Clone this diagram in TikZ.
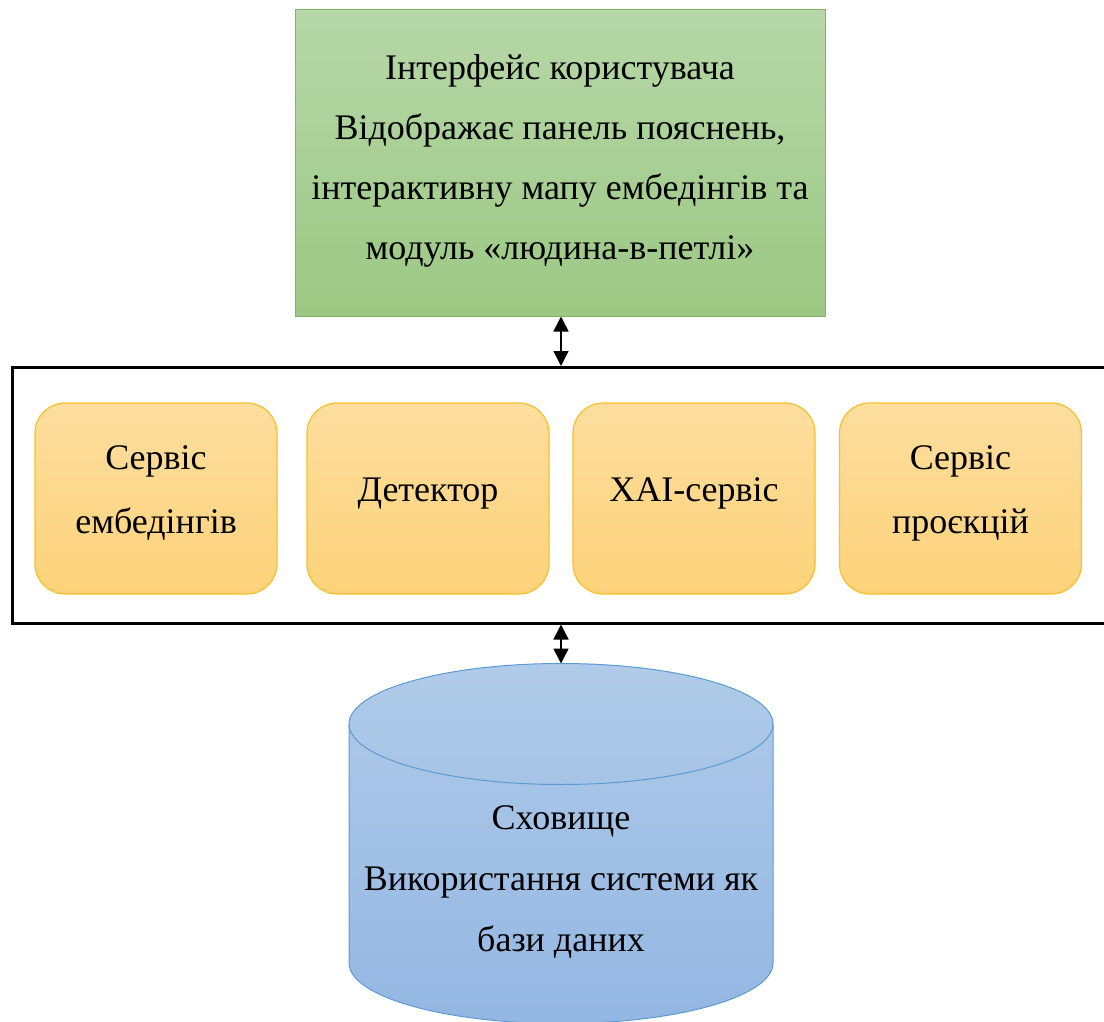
\documentclass[tikz,border=0pt]{standalone}
\usepackage{fontspec}
\setmainfont{Liberation Serif}
\usetikzlibrary{arrows.meta}
\definecolor{uiTop}{HTML}{B6D7A8}
\definecolor{uiBot}{HTML}{9CC883}
\definecolor{uiLine}{HTML}{82B366}
\definecolor{svcTop}{HTML}{FDDE9E}
\definecolor{svcBot}{HTML}{FDD27A}
\definecolor{svcLine}{HTML}{F5C02C}
\definecolor{dbTop}{HTML}{B0CBE9}
\definecolor{dbBot}{HTML}{93B6E2}
\definecolor{dbLine}{HTML}{5B9BD5}
\tikzset{
  txt/.style={font=\fontsize{36}{60}\selectfont, align=center, text=black},
  svctxt/.style={font=\fontsize{36}{64}\selectfont, align=center, text=black, yshift=5pt},
  uibox/.style={txt, draw=uiLine, line width=1pt, top color=uiTop, bottom color=uiBot,
    minimum width=530pt, minimum height=306pt, inner sep=0pt},
  svcbox/.style={draw=svcLine, line width=1.2pt, top color=svcTop, bottom color=svcBot,
    rounded corners=30pt, minimum width=242pt, minimum height=191pt, inner sep=0pt},
  frame/.style={draw=black, line width=2.5pt, minimum width=1100pt, minimum height=256pt, inner sep=0pt},
  link/.style={line width=1.5pt, {Triangle[width=15pt,length=15pt]}-{Triangle[width=15pt,length=15pt]}}
}
\begin{document}
\begin{tikzpicture}[x=1pt,y=-1pt]
\useasboundingbox (0,0) rectangle (1104,1022);
\begin{scope}
\clip (0,0) rectangle (1104,1022);

% user interface block
\node[uibox] (ui) at (560,163) {};
\node[txt] (uitext) at (560,161) {Інтерфейс користувача\\Відображає панель пояснень,\\інтерактивну мапу ембедінгів та\\модуль «людина-в-петлі»};

% services layer
\node[frame, anchor=north west] (layer) at (11,366) {};
\node[svcbox] (emb) at (156,498.5) {};
\node[svctxt] (embtext) at (emb.center) {Сервіс\\ембедінгів};
\node[svcbox] (det) at (428,498.5) {};
\node[svctxt] (dettext) at (det.center) {Детектор};
\node[svcbox] (xai) at (694,498.5) {};
\node[svctxt] (xaitext) at (xai.center) {XAI-сервіс};
\node[svcbox] (proj) at (960.5,498.5) {};
\node[svctxt] (projtext) at (proj.center) {Сервіс\\проєкцій};

% storage cylinder
\path[top color=dbTop, bottom color=dbBot, draw=dbLine, line width=1pt]
  (349,724) -- (349,963) arc[start angle=180, end angle=360, x radius=212, y radius=-60.5]
  -- (773,724) arc[start angle=0, end angle=180, x radius=212, y radius=-60.5] -- cycle;
\draw[dbLine, line width=1pt] (349,724) arc[start angle=180, end angle=360, x radius=212, y radius=-60.5];
\coordinate (storetop) at (561,663.5);
\node[txt, font=\fontsize{36}{61}\selectfont] (store) at (561,882) {Сховище\\Використання системи як\\бази даних};

% connectors
\draw[link] (ui.south -| storetop) -- (layer.north -| storetop);
\draw[link] (layer.south -| storetop) -- (storetop);
\end{scope}
\end{tikzpicture}
\end{document}
